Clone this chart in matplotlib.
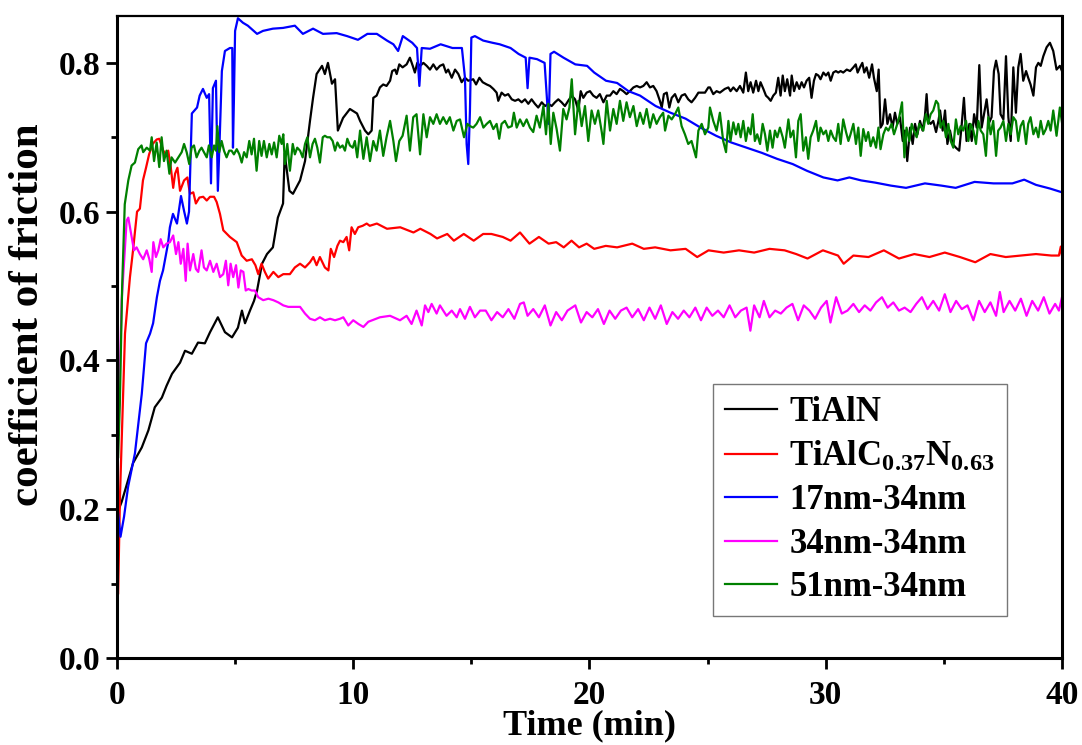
import numpy as np
import matplotlib.pyplot as plt
from matplotlib.ticker import MultipleLocator

# coefficient of friction vs sliding time, five coatings

plt.rcParams['font.family'] = 'Liberation Serif'
plt.rcParams['font.weight'] = 'bold'
plt.rcParams['mathtext.default'] = 'regular'

labels = ['TiAlN', r'TiAlC$_{0.37}$N$_{0.63}$', '17nm-34nm', '34nm-34nm', '51nm-34nm']
colors = ['black', '#ff0000', '#0000ff', '#ff00ff', '#008000']

# TiAlN
t_black = [0.08, 0.2, 0.34, 0.68, 1.05, 1.33, 1.6, 1.9, 2.1, 2.33, 2.67, 2.88, 3.17, 3.43, 3.72,
           3.94, 4.27, 4.57, 4.87, 5.12, 5.29, 5.42, 5.63, 5.8, 5.93, 6.14, 6.35, 6.6, 6.81, 7.03,
           7.1, 7.3, 7.45, 7.75, 7.96, 8.17, 8.3, 8.45, 8.68, 8.8, 8.93, 9.1, 9.23, 9.35, 9.57,
           9.86, 10.16, 10.29, 10.5, 10.64, 10.78, 10.85, 10.99, 11.13, 11.27, 11.41, 11.56, 11.65,
           11.77, 11.84, 11.95, 12.09, 12.26, 12.4, 12.52, 12.61, 12.71, 12.83, 12.97, 13.11,
           13.25, 13.39, 13.53, 13.67, 13.81, 13.93, 14.02, 14.17, 14.31, 14.45, 14.59, 14.73,
           14.87, 15.08, 15.2, 15.34, 15.48, 15.65, 15.79, 15.93, 16.07, 16.14, 16.28, 16.42,
           16.56, 16.71, 16.85, 16.99, 17.13, 17.27, 17.41, 17.55, 17.69, 17.83, 17.98, 18.12,
           18.26, 18.4, 18.54, 18.68, 18.82, 18.96, 19.1, 19.25, 19.39, 19.53, 19.63, 19.74,
           19.88, 20.02, 20.16, 20.3, 20.44, 20.59, 20.73, 20.87, 21.01, 21.15, 21.29, 21.43,
           21.57, 21.71, 21.86, 22.0, 22.14, 22.28, 22.42, 22.56, 22.7, 22.84, 22.98, 23.06,
           23.15, 23.27, 23.38, 23.48, 23.62, 23.76, 23.9, 24.04, 24.18, 24.32, 24.47, 24.61,
           24.75, 24.89, 25.03, 25.1, 25.24, 25.38, 25.52, 25.73, 25.88, 25.97, 26.09, 26.23,
           26.37, 26.51, 26.62, 26.72, 26.82, 26.93, 27.05, 27.15, 27.24, 27.36, 27.47, 27.57,
           27.67, 27.78, 27.89, 27.99, 28.09, 28.18, 28.27, 28.37, 28.49, 28.56, 28.66, 28.77,
           28.88, 28.98, 29.08, 29.19, 29.3, 29.4, 29.5, 29.59, 29.69, 29.78, 29.9, 30.01, 30.11,
           30.21, 30.32, 30.43, 30.53, 30.63, 30.74, 30.89, 31.03, 31.17, 31.27, 31.35, 31.45,
           31.55, 31.63, 31.73, 31.84, 31.96, 32.04, 32.16, 32.24, 32.32, 32.41, 32.51, 32.61,
           32.72, 32.83, 32.93, 33.03, 33.14, 33.26, 33.35, 33.45, 33.57, 33.68, 33.78, 33.88,
           33.99, 34.1, 34.2, 34.27, 34.34, 34.44, 34.55, 34.67, 34.77, 34.84, 34.95, 35.05,
           35.15, 35.26, 35.37, 35.51, 35.65, 35.75, 35.85, 35.96, 36.08, 36.18, 36.28, 36.39,
           36.5, 36.6, 36.7, 36.81, 36.92, 37.02, 37.12, 37.21, 37.32, 37.4, 37.52, 37.63, 37.73,
           37.83, 37.94, 38.05, 38.15, 38.25, 38.36, 38.48, 38.57, 38.67, 38.79, 38.9, 39.0,
           39.1, 39.21, 39.35, 39.49, 39.63, 39.77, 39.91, 40.0]
v_black = [0.2, 0.21, 0.225, 0.262, 0.283, 0.306, 0.337, 0.35, 0.366, 0.382, 0.397, 0.413, 0.409,
           0.424, 0.423, 0.438, 0.458, 0.438, 0.431, 0.444, 0.467, 0.45, 0.467, 0.48, 0.494, 0.53,
           0.543, 0.552, 0.592, 0.611, 0.678, 0.628, 0.624, 0.642, 0.668, 0.722, 0.753, 0.785,
           0.796, 0.785, 0.8, 0.772, 0.778, 0.709, 0.726, 0.738, 0.732, 0.722, 0.709, 0.704,
           0.709, 0.753, 0.756, 0.767, 0.771, 0.769, 0.776, 0.789, 0.791, 0.785, 0.798, 0.794,
           0.798, 0.807, 0.796, 0.787, 0.8, 0.796, 0.8, 0.796, 0.791, 0.798, 0.791, 0.796, 0.798,
           0.787, 0.791, 0.78, 0.791, 0.785, 0.774, 0.78, 0.776, 0.778, 0.771, 0.78, 0.774,
           0.771, 0.769, 0.765, 0.76, 0.749, 0.76, 0.756, 0.758, 0.751, 0.749, 0.751, 0.747,
           0.751, 0.745, 0.751, 0.745, 0.74, 0.747, 0.742, 0.745, 0.742, 0.747, 0.751, 0.747,
           0.742, 0.749, 0.756, 0.751, 0.736, 0.762, 0.753, 0.76, 0.762, 0.756, 0.753, 0.758,
           0.747, 0.756, 0.756, 0.762, 0.758, 0.765, 0.762, 0.758, 0.762, 0.767, 0.769, 0.767,
           0.769, 0.774, 0.767, 0.769, 0.762, 0.749, 0.74, 0.758, 0.76, 0.74, 0.753, 0.758,
           0.747, 0.756, 0.758, 0.751, 0.747, 0.753, 0.76, 0.76, 0.76, 0.767, 0.767, 0.758,
           0.762, 0.76, 0.765, 0.767, 0.762, 0.767, 0.762, 0.769, 0.76, 0.787, 0.762, 0.774,
           0.76, 0.776, 0.762, 0.774, 0.765, 0.756, 0.753, 0.749, 0.756, 0.76, 0.78, 0.756,
           0.783, 0.762, 0.778, 0.756, 0.783, 0.762, 0.774, 0.765, 0.774, 0.767, 0.776, 0.78,
           0.753, 0.776, 0.785, 0.783, 0.778, 0.787, 0.783, 0.787, 0.776, 0.787, 0.789, 0.787,
           0.789, 0.787, 0.791, 0.789, 0.794, 0.798, 0.787, 0.794, 0.8, 0.787, 0.794, 0.78,
           0.798, 0.78, 0.762, 0.791, 0.713, 0.718, 0.751, 0.718, 0.731, 0.713, 0.733, 0.718,
           0.727, 0.695, 0.709, 0.668, 0.713, 0.691, 0.718, 0.704, 0.722, 0.709, 0.729, 0.758,
           0.722, 0.718, 0.722, 0.707, 0.722, 0.736, 0.709, 0.736, 0.691, 0.709, 0.691, 0.686,
           0.682, 0.715, 0.753, 0.695, 0.718, 0.695, 0.731, 0.713, 0.797, 0.713, 0.731, 0.751,
           0.72, 0.727, 0.789, 0.803, 0.785, 0.731, 0.724, 0.809, 0.727, 0.695, 0.794, 0.733,
           0.794, 0.812, 0.776, 0.789, 0.78, 0.771, 0.756, 0.794, 0.8, 0.796, 0.809, 0.821,
           0.827, 0.816, 0.791, 0.796, 0.789]

# TiAlC0.37N0.63
t_red = [0.05, 0.13, 0.34, 0.55, 0.68, 0.85, 0.97, 1.1, 1.23, 1.36, 1.51, 1.68, 1.79, 1.96, 2.07,
         2.17, 2.28, 2.38, 2.46, 2.56, 2.67, 2.84, 2.98, 3.09, 3.23, 3.34, 3.49, 3.65, 3.8, 3.94,
         4.11, 4.22, 4.36, 4.5, 4.78, 5.07, 5.28, 5.49, 5.71, 5.86, 5.98, 6.12, 6.26, 6.4, 6.62,
         6.83, 7.04, 7.32, 7.53, 7.75, 7.96, 8.17, 8.31, 8.45, 8.59, 8.8, 8.95, 9.05, 9.19, 9.33,
         9.44, 9.58, 9.72, 9.83, 9.93, 10.07, 10.21, 10.4, 10.57, 10.7, 11.0, 11.43, 11.99, 12.55,
         12.84, 13.27, 13.55, 13.98, 14.26, 14.68, 15.1, 15.5, 15.85, 16.33, 16.66, 17.06, 17.46,
         17.86, 18.27, 18.59, 18.91, 19.24, 19.56, 19.88, 20.2, 20.69, 21.17, 21.81, 22.3, 22.78,
         23.43, 24.07, 24.56, 25.04, 25.68, 26.33, 26.97, 27.62, 28.26, 28.75, 29.23, 29.88,
         30.52, 30.76, 31.17, 31.81, 32.46, 33.1, 33.75, 34.39, 35.04, 35.68, 36.33, 36.97,
         37.62, 38.26, 38.9, 39.55, 39.87, 39.95, 40.0]
v_red = [0.087, 0.22, 0.436, 0.512, 0.548, 0.6, 0.604, 0.642, 0.659, 0.677, 0.691, 0.697, 0.698,
         0.682, 0.677, 0.682, 0.659, 0.632, 0.651, 0.659, 0.628, 0.642, 0.646, 0.624, 0.626, 0.611,
         0.619, 0.62, 0.615, 0.62, 0.62, 0.613, 0.597, 0.575, 0.566, 0.559, 0.541, 0.534, 0.536,
         0.528, 0.516, 0.53, 0.519, 0.51, 0.519, 0.512, 0.516, 0.516, 0.525, 0.53, 0.525, 0.532,
         0.539, 0.528, 0.539, 0.525, 0.521, 0.55, 0.539, 0.554, 0.561, 0.559, 0.566, 0.548, 0.579,
         0.57, 0.579, 0.581, 0.584, 0.581, 0.584, 0.577, 0.579, 0.572, 0.577, 0.57, 0.564, 0.57,
         0.561, 0.57, 0.561, 0.57, 0.57, 0.566, 0.561, 0.572, 0.557, 0.566, 0.557, 0.559, 0.552,
         0.561, 0.552, 0.557, 0.55, 0.554, 0.552, 0.557, 0.55, 0.552, 0.548, 0.55, 0.539, 0.548,
         0.545, 0.548, 0.545, 0.55, 0.548, 0.543, 0.537, 0.548, 0.541, 0.53, 0.541, 0.539, 0.548,
         0.537, 0.543, 0.539, 0.545, 0.539, 0.532, 0.543, 0.539, 0.541, 0.543, 0.541, 0.541,
         0.553, 0.541]

# 17nm-34nm
t_blue = [0.0, 0.15, 0.3, 0.47, 0.76, 1.05, 1.23, 1.4, 1.53, 1.69, 1.82, 1.95, 2.16, 2.24, 2.37,
          2.54, 2.71, 2.84, 2.96, 3.05, 3.17, 3.39, 3.5, 3.64, 3.8, 3.9, 3.98, 4.06, 4.19, 4.27,
          4.35, 4.44, 4.57, 4.78, 4.88, 4.91, 4.95, 5.0, 5.12, 5.33, 5.54, 5.93, 6.18, 6.6, 7.03,
          7.53, 7.87, 8.3, 8.72, 9.3, 9.74, 10.2, 10.6, 11.0, 11.43, 11.7, 11.9, 12.1, 12.5, 12.7,
          12.8, 12.9, 13.25, 13.7, 14.2, 14.6, 14.73, 14.8, 14.87, 14.94, 15.0, 15.15, 15.5, 15.9,
          16.2, 16.66, 17.0, 17.3, 17.38, 17.46, 17.78, 18.1, 18.27, 18.35, 18.5, 18.9, 19.4,
          19.9, 20.2, 20.7, 21.17, 21.65, 22.14, 22.8, 23.43, 24.07, 24.7, 25.36, 26.0, 26.65,
          27.3, 27.94, 28.6, 29.2, 29.9, 30.5, 31.0, 31.5, 32.1, 32.76, 33.4, 34.2, 34.9, 35.5,
          36.3, 37.1, 37.9, 38.4, 38.9, 39.5, 40.0]
v_blue = [0.21, 0.163, 0.19, 0.23, 0.275, 0.355, 0.423, 0.436, 0.45, 0.485, 0.507, 0.521, 0.557,
          0.579, 0.597, 0.584, 0.621, 0.601, 0.584, 0.6, 0.732, 0.74, 0.756, 0.765, 0.753, 0.758,
          0.638, 0.766, 0.776, 0.628, 0.7, 0.789, 0.816, 0.82, 0.82, 0.686, 0.75, 0.843, 0.86,
          0.854, 0.85, 0.839, 0.843, 0.846, 0.847, 0.85, 0.839, 0.846, 0.839, 0.84, 0.836, 0.831,
          0.839, 0.839, 0.83, 0.825, 0.816, 0.836, 0.827, 0.82, 0.769, 0.82, 0.819, 0.825, 0.82,
          0.82, 0.78, 0.691, 0.664, 0.735, 0.834, 0.836, 0.83, 0.827, 0.825, 0.82, 0.812, 0.807,
          0.766, 0.807, 0.805, 0.8, 0.718, 0.812, 0.815, 0.807, 0.798, 0.796, 0.787, 0.776, 0.773,
          0.762, 0.756, 0.742, 0.733, 0.725, 0.713, 0.702, 0.693, 0.686, 0.679, 0.671, 0.664,
          0.655, 0.646, 0.642, 0.646, 0.642, 0.639, 0.635, 0.632, 0.638, 0.635, 0.632, 0.64,
          0.638, 0.638, 0.643, 0.636, 0.631, 0.626]

# 34nm-34nm
t_mag = [0.06, 0.2, 0.41, 0.48, 0.62, 0.72, 0.83, 0.97, 1.11, 1.26, 1.37, 1.47, 1.54, 1.65, 1.75,
         1.85, 1.96, 2.1, 2.24, 2.38, 2.5, 2.6, 2.7, 2.81, 2.91, 2.99, 3.09, 3.23, 3.34, 3.44,
         3.58, 3.68, 3.8, 3.94, 4.08, 4.22, 4.36, 4.5, 4.61, 4.71, 4.81, 4.92, 5.04, 5.14, 5.24,
         5.35, 5.45, 5.56, 5.7, 5.84, 5.98, 6.19, 6.41, 6.62, 6.83, 7.04, 7.25, 7.46, 7.75, 7.96,
         8.17, 8.38, 8.59, 8.8, 9.02, 9.23, 9.44, 9.58, 9.79, 10.0, 10.22, 10.43, 10.64, 11.13,
         11.56, 11.98, 12.26, 12.47, 12.68, 12.9, 13.04, 13.18, 13.32, 13.53, 13.67, 13.81, 13.95,
         14.17, 14.38, 14.52, 14.73, 14.94, 15.15, 15.37, 15.61, 15.85, 16.09, 16.33, 16.57,
         16.82, 17.06, 17.22, 17.38, 17.62, 17.86, 18.11, 18.35, 18.59, 18.83, 19.07, 19.4,
         19.64, 19.88, 20.12, 20.36, 20.61, 20.85, 21.09, 21.33, 21.57, 21.81, 22.06, 22.3,
         22.54, 22.78, 23.02, 23.27, 23.51, 23.75, 23.99, 24.23, 24.48, 24.72, 24.96, 25.2,
         25.44, 25.68, 25.93, 26.17, 26.41, 26.65, 26.81, 26.97, 27.2, 27.38, 27.62, 27.86, 28.1,
         28.34, 28.59, 28.83, 29.07, 29.31, 29.55, 29.8, 30.04, 30.2, 30.44, 30.68, 30.92,
         31.17, 31.41, 31.65, 31.89, 32.13, 32.38, 32.62, 32.86, 33.1, 33.34, 33.59, 33.83,
         34.07, 34.31, 34.55, 34.8, 35.04, 35.28, 35.52, 35.76, 36.0, 36.25, 36.49, 36.73,
         36.97, 37.21, 37.37, 37.53, 37.78, 38.02, 38.26, 38.5, 38.74, 38.99, 39.23, 39.47,
         39.71, 39.87, 40.0]
v_mag = [0.3, 0.481, 0.588, 0.592, 0.566, 0.548, 0.552, 0.543, 0.536, 0.548, 0.536, 0.519, 0.559,
         0.539, 0.548, 0.563, 0.552, 0.557, 0.559, 0.568, 0.543, 0.559, 0.53, 0.55, 0.507, 0.557,
         0.521, 0.543, 0.523, 0.519, 0.548, 0.525, 0.521, 0.534, 0.519, 0.53, 0.512, 0.516, 0.534,
         0.501, 0.53, 0.512, 0.528, 0.498, 0.521, 0.519, 0.494, 0.496, 0.494, 0.494, 0.485, 0.481,
         0.483, 0.481, 0.478, 0.474, 0.472, 0.472, 0.472, 0.463, 0.456, 0.454, 0.458, 0.454,
         0.456, 0.454, 0.456, 0.458, 0.447, 0.454, 0.449, 0.445, 0.452, 0.458, 0.46, 0.454, 0.46,
         0.449, 0.467, 0.447, 0.474, 0.465, 0.476, 0.463, 0.474, 0.467, 0.46, 0.467, 0.458,
         0.469, 0.456, 0.472, 0.458, 0.467, 0.467, 0.454, 0.465, 0.458, 0.469, 0.456, 0.476,
         0.478, 0.46, 0.469, 0.458, 0.474, 0.447, 0.465, 0.454, 0.467, 0.474, 0.451, 0.465,
         0.458, 0.469, 0.449, 0.467, 0.456, 0.467, 0.471, 0.458, 0.469, 0.454, 0.471, 0.456,
         0.474, 0.449, 0.465, 0.456, 0.467, 0.458, 0.471, 0.454, 0.471, 0.46, 0.467, 0.458,
         0.474, 0.458, 0.467, 0.471, 0.44, 0.474, 0.458, 0.48, 0.458, 0.467, 0.463, 0.471, 0.476,
         0.454, 0.474, 0.467, 0.456, 0.471, 0.48, 0.451, 0.485, 0.463, 0.467, 0.476, 0.465,
         0.474, 0.467, 0.478, 0.485, 0.471, 0.478, 0.467, 0.471, 0.465, 0.476, 0.485, 0.469,
         0.48, 0.467, 0.489, 0.465, 0.48, 0.469, 0.474, 0.454, 0.48, 0.465, 0.478, 0.46, 0.492,
         0.465, 0.48, 0.467, 0.483, 0.46, 0.48, 0.467, 0.485, 0.463, 0.476, 0.467, 0.485]

# 51nm-34nm
t_green = [0.05, 0.12, 0.22, 0.33, 0.48, 0.62, 0.76, 0.9, 1.04, 1.11, 1.26, 1.4, 1.47, 1.57, 1.68,
           1.79, 1.89, 1.99, 2.1, 2.22, 2.31, 2.46, 2.6, 2.74, 2.84, 2.95, 3.06, 3.16, 3.26, 3.37,
           3.49, 3.58, 3.68, 3.8, 3.89, 4.01, 4.11, 4.19, 4.25, 4.33, 4.43, 4.53, 4.64, 4.75,
           4.85, 4.95, 5.07, 5.18, 5.28, 5.38, 5.49, 5.6, 5.7, 5.8, 5.91, 6.02, 6.12, 6.22, 6.34,
           6.45, 6.55, 6.65, 6.76, 6.87, 6.97, 7.04, 7.11, 7.21, 7.32, 7.44, 7.53, 7.63, 7.75,
           7.86, 7.96, 8.06, 8.17, 8.28, 8.38, 8.48, 8.59, 8.71, 8.8, 8.9, 9.02, 9.13, 9.23, 9.33,
           9.44, 9.55, 9.65, 9.75, 9.86, 9.98, 10.07, 10.17, 10.29, 10.43, 10.57, 10.71, 10.85,
           10.99, 11.13, 11.27, 11.41, 11.56, 11.7, 11.81, 11.95, 12.09, 12.26, 12.4, 12.54, 12.68,
           12.83, 12.97, 13.11, 13.25, 13.39, 13.53, 13.67, 13.81, 13.95, 14.09, 14.24, 14.38,
           14.52, 14.69, 14.83, 14.94, 15.08, 15.22, 15.37, 15.51, 15.65, 15.79, 15.93, 16.07,
           16.18, 16.28, 16.42, 16.56, 16.71, 16.8, 16.92, 17.06, 17.2, 17.34, 17.48, 17.62,
           17.76, 17.9, 18.05, 18.16, 18.26, 18.36, 18.47, 18.61, 18.75, 18.89, 19.03, 19.15,
           19.25, 19.39, 19.53, 19.67, 19.81, 19.95, 20.09, 20.23, 20.37, 20.52, 20.59, 20.73,
           20.87, 21.01, 21.15, 21.29, 21.43, 21.57, 21.71, 21.86, 22.0, 22.14, 22.28, 22.42,
           22.56, 22.7, 22.84, 22.98, 23.12, 23.2, 23.34, 23.48, 23.62, 23.76, 23.9, 24.04, 24.18,
           24.32, 24.51, 24.61, 24.75, 24.89, 25.03, 25.1, 25.24, 25.38, 25.52, 25.66, 25.78,
           25.88, 25.97, 26.09, 26.2, 26.3, 26.4, 26.51, 26.62, 26.72, 26.82, 26.91, 27.0, 27.1,
           27.22, 27.33, 27.43, 27.53, 27.64, 27.75, 27.85, 27.95, 28.06, 28.18, 28.27, 28.42,
           28.51, 28.63, 28.74, 28.84, 28.94, 29.05, 29.16, 29.26, 29.36, 29.47, 29.59, 29.69,
           29.78, 29.9, 30.01, 30.11, 30.21, 30.32, 30.43, 30.53, 30.63, 30.74, 30.86, 30.96,
           31.05, 31.17, 31.28, 31.38, 31.48, 31.59, 31.7, 31.8, 31.9, 32.01, 32.13, 32.23, 32.32,
           32.44, 32.55, 32.65, 32.79, 32.89, 33.0, 33.11, 33.23, 33.33, 33.42, 33.54, 33.64,
           33.73, 33.85, 33.96, 34.13, 34.24, 34.34, 34.44, 34.55, 34.67, 34.76, 34.86, 34.98,
           35.09, 35.19, 35.29, 35.4, 35.51, 35.61, 35.71, 35.82, 35.94, 36.04, 36.13, 36.25,
           36.36, 36.46, 36.56, 36.67, 36.78, 36.88, 36.98, 37.09, 37.21, 37.3, 37.4, 37.52,
           37.63, 37.73, 37.83, 37.94, 38.05, 38.15, 38.25, 38.36, 38.48, 38.57, 38.67, 38.79,
           38.9, 39.0, 39.1, 39.21, 39.32, 39.42, 39.52, 39.63, 39.77, 39.91, 40.0]
v_green = [0.27, 0.34, 0.5, 0.61, 0.642, 0.662, 0.666, 0.684, 0.689, 0.68, 0.686, 0.682, 0.7,
           0.668, 0.693, 0.66, 0.7, 0.668, 0.682, 0.651, 0.673, 0.666, 0.673, 0.68, 0.691, 0.68,
           0.664, 0.686, 0.689, 0.673, 0.682, 0.686, 0.68, 0.673, 0.689, 0.673, 0.689, 0.682,
           0.715, 0.68, 0.695, 0.682, 0.673, 0.682, 0.682, 0.677, 0.684, 0.677, 0.666, 0.68,
           0.673, 0.695, 0.677, 0.698, 0.655, 0.695, 0.675, 0.695, 0.673, 0.691, 0.677, 0.693,
           0.673, 0.702, 0.691, 0.704, 0.664, 0.691, 0.655, 0.691, 0.677, 0.686, 0.682, 0.673,
           0.691, 0.7, 0.673, 0.691, 0.698, 0.686, 0.666, 0.7, 0.702, 0.7, 0.7, 0.695, 0.682,
           0.693, 0.686, 0.689, 0.682, 0.698, 0.689, 0.686, 0.695, 0.673, 0.709, 0.671, 0.7,
           0.668, 0.695, 0.682, 0.709, 0.675, 0.7, 0.722, 0.695, 0.668, 0.695, 0.702, 0.729, 0.682,
           0.727, 0.731, 0.677, 0.731, 0.7, 0.727, 0.718, 0.731, 0.718, 0.727, 0.718, 0.727, 0.709,
           0.722, 0.724, 0.7, 0.718, 0.715, 0.713, 0.718, 0.727, 0.713, 0.718, 0.722, 0.711, 0.718,
           0.698, 0.718, 0.722, 0.713, 0.715, 0.733, 0.713, 0.724, 0.715, 0.724, 0.713, 0.707,
           0.729, 0.713, 0.742, 0.704, 0.745, 0.691, 0.733, 0.711, 0.682, 0.738, 0.724, 0.74,
           0.778, 0.704, 0.749, 0.715, 0.742, 0.695, 0.736, 0.718, 0.736, 0.707, 0.691, 0.749,
           0.709, 0.738, 0.718, 0.749, 0.722, 0.747, 0.727, 0.742, 0.715, 0.733, 0.718, 0.738,
           0.713, 0.731, 0.718, 0.727, 0.733, 0.709, 0.729, 0.724, 0.731, 0.74, 0.715, 0.704,
           0.691, 0.695, 0.673, 0.709, 0.718, 0.704, 0.713, 0.74, 0.722, 0.709, 0.733, 0.695,
           0.68, 0.722, 0.695, 0.72, 0.704, 0.718, 0.7, 0.722, 0.695, 0.713, 0.704, 0.731, 0.695,
           0.704, 0.691, 0.718, 0.704, 0.682, 0.709, 0.686, 0.709, 0.7, 0.713, 0.7, 0.686, 0.724,
           0.7, 0.709, 0.673, 0.722, 0.731, 0.682, 0.7, 0.671, 0.7, 0.709, 0.722, 0.695, 0.713,
           0.704, 0.709, 0.695, 0.709, 0.7, 0.695, 0.718, 0.691, 0.724, 0.707, 0.695, 0.704,
           0.718, 0.691, 0.713, 0.675, 0.711, 0.695, 0.707, 0.688, 0.7, 0.686, 0.713, 0.684,
           0.704, 0.713, 0.709, 0.718, 0.704, 0.715, 0.727, 0.747, 0.673, 0.713, 0.695, 0.718,
           0.709, 0.7, 0.718, 0.709, 0.731, 0.718, 0.731, 0.736, 0.749, 0.745, 0.713, 0.722, 0.7,
           0.718, 0.695, 0.686, 0.724, 0.704, 0.715, 0.709, 0.722, 0.695, 0.718, 0.709, 0.691,
           0.722, 0.709, 0.704, 0.675, 0.727, 0.704, 0.722, 0.675, 0.709, 0.713, 0.722, 0.695,
           0.718, 0.704, 0.727, 0.722, 0.695, 0.715, 0.722, 0.691, 0.718, 0.727, 0.704, 0.713,
           0.7, 0.722, 0.704, 0.711, 0.722, 0.709, 0.736, 0.702, 0.74, 0.72]

series_t = [t_black, t_red, t_blue, t_mag, t_green]
series_v = [v_black, v_red, v_blue, v_mag, v_green]

fig = plt.figure(figsize=(10.82, 7.45), dpi=100)
ax = fig.add_axes([0.1081, 0.1168, 0.8734, 0.8617])

for t, v, c, lab in zip(series_t, series_v, colors, labels):
    ax.plot(t, v, color=c, lw=1.6, label=lab)

ax.set_xlim(0, 40)
ax.set_ylim(0, 0.863)
ax.xaxis.set_major_locator(MultipleLocator(10))
ax.xaxis.set_minor_locator(MultipleLocator(5))
ax.yaxis.set_major_locator(MultipleLocator(0.2))
ax.yaxis.set_minor_locator(MultipleLocator(0.1))
ax.yaxis.set_major_formatter(plt.FormatStrFormatter('%.1f'))

ax.tick_params(axis='x', which='major', direction='out', length=8, width=2,
               labelsize=24, pad=8)
ax.tick_params(axis='x', which='minor', direction='out', length=4, width=2)
ax.tick_params(axis='y', which='major', direction='out', length=8, width=2,
               labelsize=24, pad=4)
ax.tick_params(axis='y', which='minor', direction='out', length=4, width=2)
for s in ['left', 'bottom', 'right']:
    ax.spines[s].set_linewidth(2.2)
ax.spines['top'].set_linewidth(1.6)

ax.set_xlabel('Time (min)', fontsize=26, fontweight='bold', labelpad=-1.5)
ax.set_ylabel('coefficient of friction', fontsize=31, fontweight='bold')
ax.yaxis.set_label_coords(-0.074, 0.534)

leg = ax.legend(loc='lower right', bbox_to_anchor=(0.942, 0.065), borderaxespad=0,
                fontsize=25, frameon=True, fancybox=False, handlelength=1.5,
                handletextpad=0.35, labelspacing=0.3, borderpad=0.35)
leg.get_frame().set_edgecolor('#555555')
leg.get_frame().set_linewidth(1.0)

fig.savefig('out.png', dpi=100)
